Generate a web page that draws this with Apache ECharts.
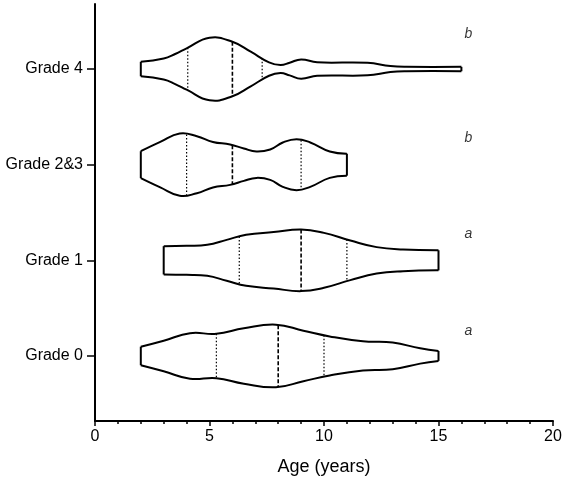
<!DOCTYPE html>
<html>
<head>
<meta charset="utf-8">
<script src="https://cdn.jsdelivr.net/npm/echarts@6/dist/echarts.min.js"></script>
<style>
  html, body { margin: 0; padding: 0; background: #fff; }
  #chart { width: 567px; height: 483px; }
</style>
</head>
<body>
<div id="chart"></div>
<script>
(function() {
  var categories = ['Grade 0', 'Grade 1', 'Grade 2&3', 'Grade 4'];

  // violin outlines: age and half width (in category units) along each grade
  var grade0Age = [2.0, 3.0, 4.15, 5.3, 6.5, 7.9, 9.1, 10.25, 11.7, 13.0, 14.2, 15.0];
  var grade0Width = [0.097, 0.16, 0.238, 0.232, 0.29, 0.327, 0.264, 0.204, 0.153, 0.14, 0.08, 0.052];
  var grade1Age = [3.0, 4.0, 4.9, 5.75, 6.6, 7.8, 9.0, 10.0, 11.15, 12.3, 13.45, 15.0];
  var grade1Width = [0.148, 0.152, 0.162, 0.214, 0.267, 0.295, 0.322, 0.287, 0.207, 0.138, 0.113, 0.105];
  var grade23Age = [2.0, 2.85, 3.7, 4.45, 5.15, 5.9, 6.5, 7.05, 7.65, 8.2, 8.8, 9.4, 10.25, 11.0];
  var grade23Width = [0.141, 0.238, 0.326, 0.298, 0.238, 0.211, 0.169, 0.138, 0.159, 0.232, 0.267, 0.232, 0.138, 0.115];
  var grade4Age = [2.0, 3.0, 3.5, 4.0, 5.0, 6.0, 6.8, 7.6, 8.1, 8.5, 9.0, 9.7, 11.9, 12.9, 13.6, 16.0];
  var grade4Width = [0.076, 0.11, 0.157, 0.216, 0.327, 0.285, 0.181, 0.07, 0.042, 0.066, 0.101, 0.07, 0.066, 0.031, 0.023, 0.023];

  var lowerQuartile = [5.3, 6.3, 4.0, 4.05];
  var median = [8.0, 9.0, 6.0, 6.0];
  var upperQuartile = [10.0, 11.0, 9.0, 7.3];

  var letters = ['a', 'a', 'b', 'b'];
  var letterX = [16.3, 16.3, 16.3, 16.3];
  var letterY = [0.26, 1.27, 2.28, 3.37];

  var ages = [grade0Age, grade1Age, grade23Age, grade4Age];
  var widths = [grade0Width, grade1Width, grade23Width, grade4Width];

  function widthAt(a, w, x) {
    for (var k = 1; k < a.length; k++) {
      if (x <= a[k]) {
        var t = (x - a[k - 1]) / (a[k] - a[k - 1]);
        return w[k - 1] + t * (w[k] - w[k - 1]);
      }
    }
    return w[w.length - 1];
  }

  var lineCol = '#000';

  function renderViolin(params, api) {
    var i = api.value(0);
    var a = ages[i], w = widths[i];
    var top = a.map(function(x, k) { return api.coord([x, i + w[k]]); });
    var bot = a.map(function(x, k) { return api.coord([x, i - w[k]]); });
    var n = a.length - 1;
    var curve = { stroke: lineCol, lineWidth: 2, fill: null, lineJoin: 'round' };
    var children = [
      { type: 'polyline', shape: { points: top, smooth: 0.45, smoothConstraint: false }, style: curve },
      { type: 'polyline', shape: { points: bot, smooth: 0.45, smoothConstraint: false }, style: curve },
      { type: 'line', shape: { x1: top[0][0], y1: top[0][1], x2: bot[0][0], y2: bot[0][1] }, style: { stroke: lineCol, lineWidth: 2 } },
      { type: 'line', shape: { x1: top[n][0], y1: top[n][1], x2: bot[n][0], y2: bot[n][1] }, style: { stroke: lineCol, lineWidth: 2 } }
    ];
    [[lowerQuartile[i], [1.5, 2], 1.2], [median[i], [4, 2], 1.6], [upperQuartile[i], [1.5, 2], 1.2]].forEach(function(q) {
      var hw = widthAt(a, w, q[0]);
      var p1 = api.coord([q[0], i + hw]);
      var p2 = api.coord([q[0], i - hw]);
      children.push({
        type: 'line',
        shape: { x1: p1[0], y1: p1[1], x2: p2[0], y2: p2[1] },
        style: { stroke: lineCol, lineWidth: q[2], lineDash: q[1] }
      });
    });
    return { type: 'group', children: children };
  }

  var font = "'Liberation Sans', Arial, sans-serif";
  var chart = echarts.init(document.getElementById('chart'), null, { renderer: 'canvas' });
  chart.setOption({
    animation: false,
    backgroundColor: '#fff',
    grid: { left: 95, right: 14, top: 4, bottom: 62 },
    xAxis: {
      type: 'value',
      min: 0,
      max: 20,
      interval: 5,
      name: 'Age (years)',
      nameLocation: 'middle',
      nameGap: 37,
      nameTextStyle: { fontSize: 18, color: '#000', fontFamily: font },
      axisLine: { onZero: false, lineStyle: { color: lineCol, width: 2 } },
      axisTick: { length: 5, lineStyle: { color: lineCol, width: 1.5 } },
      minorTick: { show: true, splitNumber: 5, length: 3, lineStyle: { color: lineCol, width: 1.5 } },
      axisLabel: { fontSize: 16, color: '#000', fontFamily: font, margin: 8 },
      splitLine: { show: false }
    },
    yAxis: {
      type: 'value',
      min: -0.68,
      max: 3.68,
      axisLine: { show: true, onZero: false, lineStyle: { color: lineCol, width: 2 } },
      axisTick: { show: true, customValues: [0, 1, 2, 3], length: 8, lineStyle: { color: lineCol, width: 1.5 } },
      axisLabel: {
        customValues: [0, 1, 2, 3],
        fontSize: 16,
        color: '#000',
        fontFamily: font,
        margin: 12,
        formatter: function(v) { return categories[Math.round(v)]; }
      },
      splitLine: { show: false }
    },
    series: [
      {
        type: 'custom',
        renderItem: renderViolin,
        data: categories.map(function(c, i) { return [i]; }),
        encode: { x: -1, y: 0 },
        silent: true
      },
      {
        type: 'scatter',
        symbolSize: 0,
        data: letters.map(function(l, i) { return { value: [letterX[i], letterY[i]], name: l }; }),
        label: {
          show: true,
          position: 'inside',
          formatter: function(p) { return p.name; },
          fontSize: 14,
          fontStyle: 'italic',
          color: '#000',
          fontFamily: font
        },
        silent: true
      }
    ]
  });
})();
</script>
</body>
</html>
